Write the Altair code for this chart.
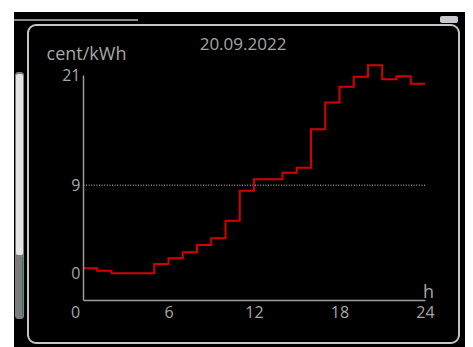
import altair as alt
import pandas as pd

# ---- data ----
hours = list(range(25))
prices = [0.51, 0.27, 0.0, 0.0, 0.0, 0.95, 1.53, 2.15, 2.89, 3.58, 5.38, 8.45,
          9.61, 9.61, 10.29, 10.80, 14.72, 17.48, 19.08, 20.10, 21.27, 19.84,
          20.14, 19.39]
prices_step = prices + [prices[-1]]          # end point of the last hour step
ref_level = [9]
x_ticks = [0, 6, 12, 18, 24]
y_ticks = [0, 9, 20.28]
y_tick_labels = ["0", "9", "21"]
y_domain = [-2.73, 20.28]
date_title = "20.09.2022"
y_title = "cent/kWh"
x_title = "h"

df = pd.DataFrame({"hour": hours, "price": prices_step})
ref_df = pd.DataFrame({"ref": ref_level})
one = pd.DataFrame({"a": [0]})

W, H = 342, 225
GRAY = "#a6a6a6"
FONT = "Open Sans"

label_expr = " : ".join(
    [f"datum.value == {v} ? '{l}'" for v, l in zip(y_ticks, y_tick_labels)] + ["datum.label"]
)

xaxis = alt.Axis(
    values=x_ticks, ticks=False, grid=False, domainColor="#9a9a9a", domainWidth=1.5,
    labelColor=GRAY, labelFont=FONT, labelFontSize=16, labelPadding=4,
    labelFlush=False, labelOverlap=False,
    labelOffset=alt.condition("datum.value == 0", alt.value(-8), alt.value(0)),
    title=x_title, titleColor=GRAY, titleFont=FONT, titleFontSize=18,
    titleFontWeight="normal", titleX=W + 3, titleY=-8, titleAlign="center",
    titleBaseline="middle", titleAngle=0, zindex=1,
)
yaxis = alt.Axis(
    values=y_ticks, labelExpr=label_expr, ticks=False, grid=False,
    domainColor="#9a9a9a", domainWidth=1.5,
    labelColor=GRAY, labelFont=FONT, labelFontSize=16, labelPadding=3,
    labelOverlap=False,
    title=y_title, titleColor=GRAY, titleFont=FONT, titleFontSize=18,
    titleFontWeight="normal", titleX=3, titleY=-21, titleAlign="center",
    titleBaseline="middle", titleAngle=0, zindex=1,
)
xscale = alt.Scale(domain=[0, 24], nice=False, zero=False)
yscale = alt.Scale(domain=y_domain, nice=False, zero=False)

# ---- decorations (device screen) ----
bg = alt.Chart(one).mark_rect(fill="#000000").encode(
    x=alt.value(-69), x2=alt.value(382), y=alt.value(-63), y2=alt.value(290))
scroll_outer = alt.Chart(one).mark_rect(fill="#7c7c7c", cornerRadius=3).encode(
    x=alt.value(-68), x2=alt.value(-59), y=alt.value(-3), y2=alt.value(244))
scroll_inner = alt.Chart(one).mark_rect(fill="#e4e4e4", cornerRadius=2).encode(
    x=alt.value(-67), x2=alt.value(-60), y=alt.value(-1), y2=alt.value(180))
scroll_teal = alt.Chart(one).mark_rect(fill="#1f7f78").encode(
    x=alt.value(-61), x2=alt.value(-60), y=alt.value(182), y2=alt.value(241))
top_line = alt.Chart(one).mark_rect(fill="#8c8c8c").encode(
    x=alt.value(-69), x2=alt.value(55), y=alt.value(-56), y2=alt.value(-54))
top_block = alt.Chart(one).mark_rect(fill="#c8c8d0", cornerRadius=2).encode(
    x=alt.value(357), x2=alt.value(375), y=alt.value(-59), y2=alt.value(-52))
frame = alt.Chart(one).mark_rect(
    fillOpacity=0, stroke="#c4c4c4", strokeWidth=2, cornerRadius=8).encode(
    x=alt.value(-55), x2=alt.value(376), y=alt.value(-50), y2=alt.value(268))

# ---- chart content ----
ref_rule = alt.Chart(ref_df).mark_rule(
    color="#8a8a8a", strokeWidth=1.5, strokeDash=[1, 1.6]).encode(
    y=alt.Y("ref:Q", scale=yscale, axis=yaxis))
line = alt.Chart(df).mark_line(
    color="#d40000", strokeWidth=2, interpolate="step-after").encode(
    x=alt.X("hour:Q", scale=xscale, axis=xaxis),
    y=alt.Y("price:Q", scale=yscale, axis=yaxis))

chart = alt.layer(
    bg, scroll_outer, scroll_inner, scroll_teal, top_line, top_block, frame,
    ref_rule, line,
).properties(
    width=W, height=H,
    title=alt.TitleParams(date_title, color=GRAY, font=FONT, fontSize=17,
                          fontWeight="normal", anchor="middle", dx=-11,
                          offset=-42, zindex=1),
    background="#ffffff",
    padding={"left": 75, "top": 67, "right": 40, "bottom": 47},
    autosize=alt.AutoSizeParams(type="none"),
).configure_view(strokeWidth=0)

chart.save("out.html", embed_options={"renderer": "svg", "actions": False})
